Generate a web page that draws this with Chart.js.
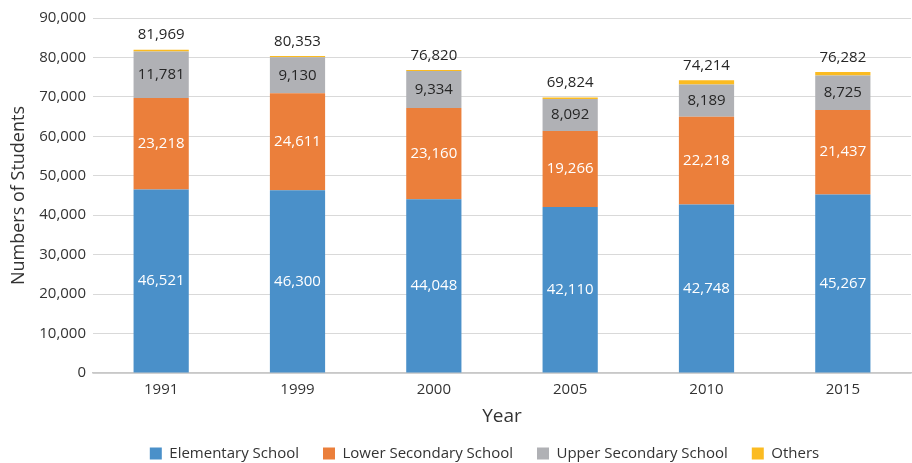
<!DOCTYPE html>
<html>
<head>
<meta charset="utf-8">
<script src="https://cdn.jsdelivr.net/npm/chart.js@4/dist/chart.umd.min.js"></script>
<style>
  html, body { margin: 0; padding: 0; background: #fff; }
  #wrap { width: 912px; height: 463px; }
</style>
</head>
<body>
<div id="wrap"><canvas id="chart" width="912" height="463"></canvas></div>
<script>
// values
const years = ['1991', '1999', '2000', '2005', '2010', '2015'];
const elementary = [46521, 46300, 44048, 42110, 42748, 45267];
const lowerSecondary = [23218, 24611, 23160, 19266, 22218, 21437];
const upperSecondary = [11781, 9130, 9334, 8092, 8189, 8725];
const totals = [81969, 80353, 76820, 69824, 74214, 76282];
// "Others" is the remainder up to the printed total
const others = totals.map((t, i) => t - elementary[i] - lowerSecondary[i] - upperSecondary[i]);

const FONT = "'Open Sans', 'DejaVu Sans', sans-serif";
const fmt = v => v.toLocaleString('en-US');

// draws segment values inside bars and totals above the stacks
const barLabels = {
  id: 'barLabels',
  afterDatasetsDraw(chart) {
    const { ctx } = chart;
    ctx.save();
    ctx.font = `15px ${FONT}`;
    ctx.textAlign = 'center';
    ctx.textBaseline = 'middle';
    chart.data.datasets.forEach((ds, di) => {
      if (!ds.labelColor) return;
      const meta = chart.getDatasetMeta(di);
      meta.data.forEach((bar, i) => {
        ctx.fillStyle = ds.labelColor;
        ctx.fillText(fmt(ds.data[i]), bar.x, (bar.y + bar.base) / 2);
      });
    });
    const top = chart.getDatasetMeta(chart.data.datasets.length - 1);
    ctx.fillStyle = '#262626';
    ctx.textBaseline = 'bottom';
    top.data.forEach((bar, i) => {
      ctx.fillText(fmt(totals[i]), bar.x, bar.y - 7);
    });
    ctx.restore();
  }
};

// legend in the original sits a bit right of the canvas centre
const legendShift = {
  id: 'legendShift',
  afterLayout(chart) {
    if (!chart.legend) return;
    chart.legend.left += 27;
    chart.legend.right += 27;
  }
};

Chart.defaults.font.family = FONT;
Chart.defaults.color = '#333';

new Chart(document.getElementById('chart'), {
  type: 'bar',
  data: {
    labels: years,
    datasets: [
      { label: 'Elementary School', data: elementary, backgroundColor: '#4a90c9', labelColor: '#fff' },
      { label: 'Lower Secondary School', data: lowerSecondary, backgroundColor: '#eb7f3b', labelColor: '#fff' },
      { label: 'Upper Secondary School', data: upperSecondary, backgroundColor: '#b0b1b5', labelColor: '#262626' },
      { label: 'Others', data: others, backgroundColor: '#fbbb21' }
    ]
  },
  options: {
    responsive: false,
    animation: false,
    layout: { padding: { top: 18, right: 1, left: 4, bottom: -8 } },
    datasets: {
      bar: { barPercentage: 0.405, categoryPercentage: 1, borderWidth: 0 }
    },
    scales: {
      x: {
        stacked: true,
        grid: { display: false },
        border: { color: '#c8c8c8', width: 1.5 },
        ticks: { font: { size: 15 }, color: '#333', padding: 0 },
        title: { display: true, text: 'Year', font: { size: 19 }, color: '#333', padding: { top: 4, bottom: -6 } },
        afterFit(scale) { scale.height = 49; }
      },
      y: {
        stacked: true,
        min: 0,
        max: 90000,
        grid: { color: '#d9d9d9', drawTicks: false },
        border: { display: false },
        ticks: { stepSize: 10000, font: { size: 15 }, color: '#333', padding: 7, callback: v => fmt(v) },
        title: { display: true, text: 'Numbers of Students', font: { size: 18 }, color: '#333', padding: { bottom: 4 } },
        afterFit(scale) { scale.width = 89; }
      }
    },
    plugins: {
      legend: {
        position: 'bottom',
        labels: { boxWidth: 12, boxHeight: 12, font: { size: 15 }, color: '#333', padding: 24 }
      },
      tooltip: { enabled: false }
    }
  },
  plugins: [barLabels, legendShift]
});
</script>
</body>
</html>
